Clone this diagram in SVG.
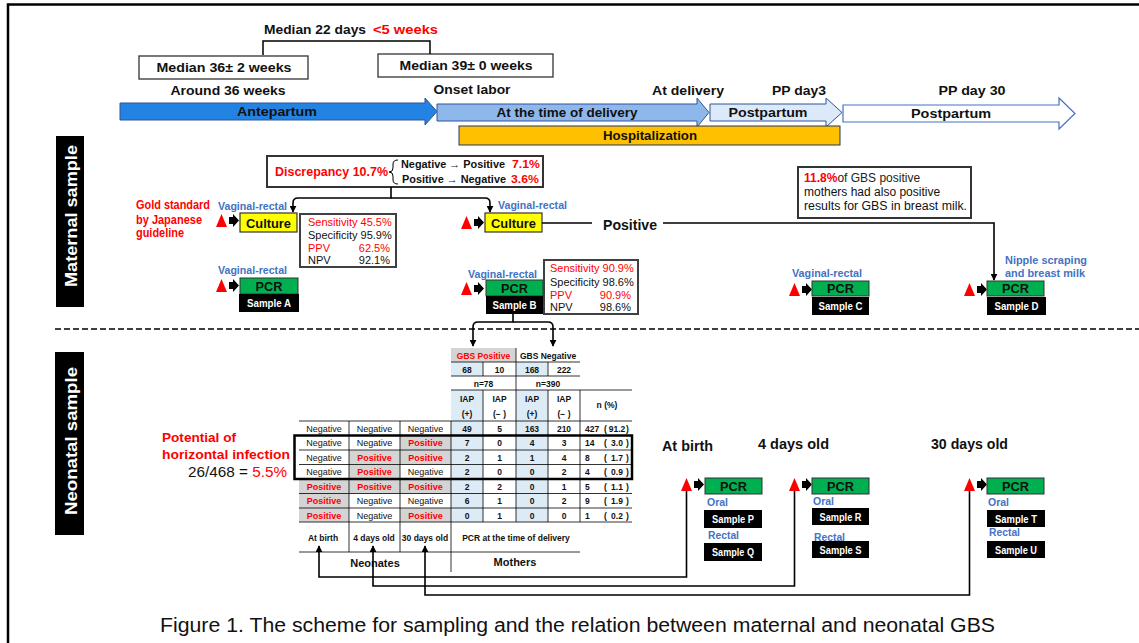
<svg xmlns="http://www.w3.org/2000/svg" width="1139" height="643" viewBox="0 0 1139 643">
<defs>
<style>
text{font-family:"Liberation Sans",Arial,sans-serif;fill:#111;}
.b{font-weight:bold;}
.red{fill:#FF0000;}
.blue{fill:#4472C4;}
.wt{fill:#FFFFFF;}
.c{text-anchor:middle;}
.e{text-anchor:end;}
.ln{fill:none;stroke:#000;stroke-width:1.6;}
.tl{stroke:#000;stroke-width:0.8;fill:none;}
.cul{fill:#FFFF00;stroke:#333;stroke-width:1.2;}
.pcr{fill:#00B050;stroke:#333;stroke-width:1;}
.gray{fill:#D4D4D4;}
.lb{fill:#DDEBF7;}
.t{font-size:9px;}
.h{font-size:8.5px;font-weight:bold;}
.vr{font-size:11.5px;font-weight:bold;fill:#4472C4;}
.lab{font-size:13px;font-weight:bold;}
.st{font-size:11px;}
</style>
<marker id="ah" viewBox="0 0 10 10" refX="9" refY="5" markerWidth="7" markerHeight="7" markerUnits="userSpaceOnUse" orient="auto"><path d="M0,0 L10,5 L0,10 z" fill="#000"/></marker>
<g id="ta"><polygon points="0,13 5.5,0 11,13" fill="#FF0000"/><path d="M13,3 H17 V0 L23,6.5 L17,13 V10 H13 Z" fill="#000"/></g>
</defs>

<rect width="1139" height="643" fill="#fff"/>
<path d="M8,643 V4.5 H1139" fill="none" stroke="#000" stroke-width="2.5"/>

<!-- Timeline -->
<g id="median22">
<text class="lab" x="264" y="34" textLength="102" lengthAdjust="spacingAndGlyphs">Median 22 days</text>
<text class="lab red" x="373" y="34" textLength="65" lengthAdjust="spacingAndGlyphs">&lt;5 weeks</text>
</g>
<g id="median36">
<rect x="139" y="56" width="169" height="23" fill="#fff" stroke="#333" stroke-width="1.3"/>
<text class="lab c" x="224" y="72" textLength="135" lengthAdjust="spacingAndGlyphs">Median 36±  2 weeks</text>
</g>
<g id="median39">
<rect x="378" y="54" width="175" height="23" fill="#fff" stroke="#333" stroke-width="1.3"/>
<text class="lab c" x="466" y="70" textLength="133" lengthAdjust="spacingAndGlyphs">Median 39±  0 weeks</text>
</g>
<g id="timeline-labels">
<text class="lab c" x="228" y="95" textLength="115" lengthAdjust="spacingAndGlyphs">Around 36 weeks</text>
<text class="lab c" x="472" y="94" textLength="77" lengthAdjust="spacingAndGlyphs">Onset labor</text>
<text class="lab c" x="688" y="95" textLength="72" lengthAdjust="spacingAndGlyphs">At delivery</text>
<text class="lab c" x="799" y="95" textLength="54" lengthAdjust="spacingAndGlyphs">PP day3</text>
<text class="lab c" x="972" y="95" textLength="67" lengthAdjust="spacingAndGlyphs">PP day 30</text>
</g>
<g id="antepartum">
<polygon points="120,103 425,103 425,98 437,111.5 425,125 425,120 120,120" fill="#2383E2" stroke="#2F5597" stroke-width="1"/>
<text class="lab c" x="277" y="116" textLength="80" lengthAdjust="spacingAndGlyphs">Antepartum</text>
</g>
<g id="delivery">
<polygon points="437,104 697,104 697,98 709,112.5 697,127 697,121 437,121" fill="#8EB8EC" stroke="#2F5597" stroke-width="1"/>
<text class="lab c" x="567" y="117" textLength="141" lengthAdjust="spacingAndGlyphs">At the time of delivery</text>
</g>
<g id="postpartum1">
<polygon points="710,104 826,104 826,98 842,112.5 826,127 826,121 710,121" fill="#DCE9F8" stroke="#2F5597" stroke-width="1"/>
<text class="lab c" x="768" y="117" textLength="79" lengthAdjust="spacingAndGlyphs">Postpartum</text>
</g>
<g id="postpartum2">
<polygon points="843,105 1059,105 1059,98 1075,113.5 1059,129 1059,122 843,122" fill="#fff" stroke="#4472C4" stroke-width="1.2"/>
<text class="lab c" x="951" y="118" textLength="80" lengthAdjust="spacingAndGlyphs">Postpartum</text>
</g>
<g id="hospitalization">
<rect x="459" y="126" width="381" height="19" fill="#FFC000" stroke="#203864" stroke-width="1"/>
<text class="lab c" x="650" y="140" textLength="94" lengthAdjust="spacingAndGlyphs">Hospitalization</text>
</g>

<!-- Section labels -->
<g id="maternal-label">
<rect x="56" y="136" width="28" height="171" fill="#000"/>
<text class="b wt c" transform="translate(77,216) rotate(-90)" font-size="17" textLength="142" lengthAdjust="spacingAndGlyphs">Maternal sample</text>
</g>
<g id="divider"><line x1="55" y1="329" x2="1139" y2="329" stroke="#000" stroke-width="1.5" stroke-dasharray="6 3"/></g>
<g id="neonatal-label">
<rect x="55" y="352" width="29" height="183" fill="#000"/>
<text class="b wt c" transform="translate(77,441) rotate(-90)" font-size="17" textLength="148" lengthAdjust="spacingAndGlyphs">Neonatal sample</text>
</g>

<!-- Maternal nodes -->
<g id="gold-standard">
<text class="b red" x="136" y="209" font-size="12" textLength="74" lengthAdjust="spacingAndGlyphs">Gold standard</text>
<text class="b red" x="136" y="224" font-size="12" textLength="66" lengthAdjust="spacingAndGlyphs">by Japanese</text>
<text class="b red" x="136" y="237" font-size="12" textLength="48" lengthAdjust="spacingAndGlyphs">guideline</text>
</g>
<g id="culture-a">
<text class="vr" x="218" y="210" textLength="69" lengthAdjust="spacingAndGlyphs">Vaginal-rectal</text>
<use href="#ta" x="216" y="214"/>
<rect class="cul" x="240" y="213" width="57" height="19"/>
<text class="lab c" x="268.5" y="227.5" textLength="45" lengthAdjust="spacingAndGlyphs">Culture</text>
</g>
<g id="stats-a">
<rect x="300" y="214" width="96" height="53" fill="#fff" stroke="#404040" stroke-width="2"/>
<text class="st red" x="308" y="225.5">Sensitivity 45.5%</text>
<text class="st" x="308" y="238.5" fill="#222">Specificity 95.9%</text>
<text class="st red" x="308" y="251.5">PPV</text><text class="st red e" x="390" y="251.5">62.5%</text>
<text class="st" x="308" y="264">NPV</text><text class="st e" x="390" y="264">92.1%</text>
</g>
<g id="pcr-a">
<text class="vr" x="218" y="274" textLength="69" lengthAdjust="spacingAndGlyphs">Vaginal-rectal</text>
<use href="#ta" x="216" y="279"/>
<rect class="pcr" x="240" y="278" width="58" height="16"/>
<text class="b c" x="269" y="291" font-size="12" textLength="27" lengthAdjust="spacingAndGlyphs">PCR</text>
<rect x="239" y="294" width="60" height="18" fill="#000"/>
<text class="b wt c" x="269" y="307" font-size="10" textLength="44" lengthAdjust="spacingAndGlyphs">Sample A</text>
</g>
<g id="discrepancy">
<rect x="267" y="156" width="276" height="31" fill="#fff" stroke="#333" stroke-width="2"/>
<text class="lab red" x="275" y="176" textLength="113" lengthAdjust="spacingAndGlyphs">Discrepancy 10.7%</text>
<path d="M398,160 Q393,160 393,164 V168 Q393,172 389,172 Q393,172 393,176 V180 Q393,184 398,184" fill="none" stroke="#000" stroke-width="1"/>
<text class="b" x="401" y="168" font-size="11" textLength="104" lengthAdjust="spacingAndGlyphs">Negative → Positive</text>
<text class="b red" x="512" y="168" font-size="11" textLength="28" lengthAdjust="spacingAndGlyphs">7.1%</text>
<text class="b" x="402" y="183" font-size="11" textLength="104" lengthAdjust="spacingAndGlyphs">Positive → Negative</text>
<text class="b red" x="511" y="183" font-size="11" textLength="28" lengthAdjust="spacingAndGlyphs">3.6%</text>
</g>
<g id="culture-b">
<text class="vr" x="498" y="209" textLength="69" lengthAdjust="spacingAndGlyphs">Vaginal-rectal</text>
<use href="#ta" x="461" y="216"/>
<rect class="cul" x="485" y="213" width="57" height="19"/>
<text class="lab c" x="513.5" y="227.5" textLength="45" lengthAdjust="spacingAndGlyphs">Culture</text>
</g>
<g id="positive-label"><text class="b" x="603" y="230" font-size="14" textLength="54" lengthAdjust="spacingAndGlyphs">Positive</text></g>
<g id="pcr-b">
<text class="vr" x="468" y="278" textLength="69" lengthAdjust="spacingAndGlyphs">Vaginal-rectal</text>
<use href="#ta" x="461" y="282"/>
<rect class="pcr" x="486" y="280" width="57" height="16"/>
<text class="b c" x="514.5" y="293" font-size="12" textLength="27" lengthAdjust="spacingAndGlyphs">PCR</text>
<rect x="486" y="296" width="57" height="18" fill="#000"/>
<text class="b wt c" x="514.5" y="309" font-size="10" textLength="44" lengthAdjust="spacingAndGlyphs">Sample B</text>
</g>
<g id="stats-b">
<rect x="544" y="260" width="94" height="54" fill="#fff" stroke="#404040" stroke-width="2"/>
<text class="st red" x="550" y="272">Sensitivity 90.9%</text>
<text class="st" x="550" y="285.5" fill="#222">Specificity 98.6%</text>
<text class="st red" x="550" y="298.5">PPV</text><text class="st red e" x="631" y="298.5">90.9%</text>
<text class="st" x="550" y="311">NPV</text><text class="st e" x="631" y="311">98.6%</text>
</g>
<g id="breastmilk-note">
<rect x="798" y="167" width="173" height="51" fill="#fff" stroke="#333" stroke-width="2"/>
<text x="804" y="182" font-size="12"><tspan class="b red">11.8%</tspan><tspan fill="#222">of GBS positive</tspan></text>
<text x="804" y="196" font-size="12" fill="#222">mothers had also positive</text>
<text x="804" y="210" font-size="12" fill="#222" textLength="163" lengthAdjust="spacingAndGlyphs">results for GBS in breast milk.</text>
</g>
<g id="pcr-c">
<text class="vr" x="792" y="277" textLength="70" lengthAdjust="spacingAndGlyphs">Vaginal-rectal</text>
<use href="#ta" x="789" y="283"/>
<rect class="pcr" x="812" y="281" width="57" height="15"/>
<text class="b c" x="840.5" y="293" font-size="12" textLength="27" lengthAdjust="spacingAndGlyphs">PCR</text>
<rect x="812" y="297" width="57" height="18" fill="#000"/>
<text class="b wt c" x="840.5" y="310" font-size="10" textLength="44" lengthAdjust="spacingAndGlyphs">Sample C</text>
</g>
<g id="pcr-d">
<text class="vr" x="1005" y="264" textLength="82" lengthAdjust="spacingAndGlyphs">Nipple scraping</text>
<text class="vr" x="1005" y="277" textLength="80" lengthAdjust="spacingAndGlyphs">and breast milk</text>
<use href="#ta" x="964" y="283"/>
<rect class="pcr" x="987" y="281" width="57" height="15"/>
<text class="b c" x="1015.5" y="293" font-size="12" textLength="27" lengthAdjust="spacingAndGlyphs">PCR</text>
<rect x="987" y="297" width="59" height="18" fill="#000"/>
<text class="b wt c" x="1016.5" y="310" font-size="10" textLength="44" lengthAdjust="spacingAndGlyphs">Sample D</text>
</g>

<!-- Neonatal -->
<g id="horizontal-infection">
<text class="b red" x="162" y="442" font-size="13" textLength="74" lengthAdjust="spacingAndGlyphs">Potential of</text>
<text class="b red" x="162" y="459" font-size="13" textLength="128" lengthAdjust="spacingAndGlyphs">horizontal infection</text>
<text x="188" y="477" font-size="15" fill="#222" textLength="99" lengthAdjust="spacingAndGlyphs">26/468 = <tspan class="red">5.5%</tspan></text>
</g>

<g id="table">
<rect class="gray" x="451" y="348" width="65" height="14"/>
<rect class="lb" x="451" y="362" width="32" height="14"/>
<rect class="lb" x="516" y="362" width="32" height="14"/>
<rect class="lb" x="451" y="390" width="32" height="132"/>
<rect class="lb" x="516" y="390" width="32" height="132"/>
<rect class="gray" x="400" y="435.5" width="51" height="14.5"/>
<rect class="gray" x="349" y="450" width="102" height="14.5"/>
<rect class="gray" x="349" y="464.5" width="51" height="14.5"/>
<rect class="gray" x="299" y="479" width="152" height="14.5"/>
<rect class="gray" x="299" y="493.5" width="50" height="14.5"/>
<rect class="gray" x="299" y="508" width="50" height="14"/>
<rect class="gray" x="400" y="508" width="51" height="14"/>
<path class="tl" d="M451,362 H580 M451,376 H580 M451,390 H632 M299,421 H632 M299,435.5 H632 M299,450 H632 M299,464.5 H632 M299,479 H632 M299,493.5 H632 M299,508 H632 M299,522 H632 M299,552 H580 M516,348 V522 M483,362 V376 M548,362 V376 M483,390 V522 M548,390 V522 M580,390 V522 M451,421 V572 M349,421 V552 M400,421 V552"/>
<rect x="294.5" y="435.5" width="337.5" height="43.5" fill="none" stroke="#000" stroke-width="2.5"/>
<text class="h red c" x="483.5" y="358.5">GBS Positive</text>
<text class="h c" x="548" y="358.5">GBS Negative</text>
<text class="h c" x="467" y="372.5">68</text><text class="h c" x="499.5" y="372.5">10</text><text class="h c" x="532" y="372.5">168</text><text class="h c" x="564" y="372.5">222</text>
<text class="h c" x="483.5" y="386.5">n=78</text><text class="h c" x="548" y="386.5">n=390</text>
<text class="h c" x="467" y="402">IAP</text><text class="h c" x="499.5" y="402">IAP</text><text class="h c" x="532" y="402">IAP</text><text class="h c" x="564" y="402">IAP</text>
<text class="h c" x="467" y="417">(+)</text><text class="h c" x="499.5" y="417">(− )</text><text class="h c" x="532" y="417">(+)</text><text class="h c" x="564" y="417">(− )</text>
<text class="h c" x="607" y="408">n (%)</text>
<text class="t c" x="324" y="431.5">Negative</text><text class="t c" x="374.5" y="431.5">Negative</text><text class="t c" x="425.5" y="431.5">Negative</text>
<text class="h c" x="467" y="431.5">49</text><text class="h c" x="499.5" y="431.5">5</text><text class="h c" x="532" y="431.5">163</text><text class="h c" x="564" y="431.5">210</text>
<text class="h" x="585" y="431.5">427</text><text class="h" x="604" y="431.5">(</text><text class="h c" x="617" y="431.5">91.2</text><text class="h" x="626" y="431.5">)</text>
<text class="t c" x="324" y="446">Negative</text><text class="t c" x="374.5" y="446">Negative</text><text class="t b red c" x="425.5" y="446">Positive</text>
<text class="h c" x="467" y="446">7</text><text class="h c" x="499.5" y="446">0</text><text class="h c" x="532" y="446">4</text><text class="h c" x="564" y="446">3</text>
<text class="h" x="585" y="446">14</text><text class="h" x="604" y="446">(</text><text class="h c" x="617" y="446">3.0</text><text class="h" x="626" y="446">)</text>
<text class="t c" x="324" y="460.5">Negative</text><text class="t b red c" x="374.5" y="460.5">Positive</text><text class="t b red c" x="425.5" y="460.5">Positive</text>
<text class="h c" x="467" y="460.5">2</text><text class="h c" x="499.5" y="460.5">1</text><text class="h c" x="532" y="460.5">1</text><text class="h c" x="564" y="460.5">4</text>
<text class="h" x="585" y="460.5">8</text><text class="h" x="604" y="460.5">(</text><text class="h c" x="617" y="460.5">1.7</text><text class="h" x="626" y="460.5">)</text>
<text class="t c" x="324" y="475">Negative</text><text class="t b red c" x="374.5" y="475">Positive</text><text class="t c" x="425.5" y="475">Negative</text>
<text class="h c" x="467" y="475">2</text><text class="h c" x="499.5" y="475">0</text><text class="h c" x="532" y="475">0</text><text class="h c" x="564" y="475">2</text>
<text class="h" x="585" y="475">4</text><text class="h" x="604" y="475">(</text><text class="h c" x="617" y="475">0.9</text><text class="h" x="626" y="475">)</text>
<text class="t b red c" x="324" y="489.5">Positive</text><text class="t b red c" x="374.5" y="489.5">Positive</text><text class="t b red c" x="425.5" y="489.5">Positive</text>
<text class="h c" x="467" y="489.5">2</text><text class="h c" x="499.5" y="489.5">2</text><text class="h c" x="532" y="489.5">0</text><text class="h c" x="564" y="489.5">1</text>
<text class="h" x="585" y="489.5">5</text><text class="h" x="604" y="489.5">(</text><text class="h c" x="617" y="489.5">1.1</text><text class="h" x="626" y="489.5">)</text>
<text class="t b red c" x="324" y="504">Positive</text><text class="t c" x="374.5" y="504">Negative</text><text class="t c" x="425.5" y="504">Negative</text>
<text class="h c" x="467" y="504">6</text><text class="h c" x="499.5" y="504">1</text><text class="h c" x="532" y="504">0</text><text class="h c" x="564" y="504">2</text>
<text class="h" x="585" y="504">9</text><text class="h" x="604" y="504">(</text><text class="h c" x="617" y="504">1.9</text><text class="h" x="626" y="504">)</text>
<text class="t b red c" x="324" y="518.5">Positive</text><text class="t c" x="374.5" y="518.5">Negative</text><text class="t b red c" x="425.5" y="518.5">Positive</text>
<text class="h c" x="467" y="518.5">0</text><text class="h c" x="499.5" y="518.5">1</text><text class="h c" x="532" y="518.5">0</text><text class="h c" x="564" y="518.5">0</text>
<text class="h" x="585" y="518.5">1</text><text class="h" x="604" y="518.5">(</text><text class="h c" x="617" y="518.5">0.2</text><text class="h" x="626" y="518.5">)</text>
<text class="h c" x="323" y="541">At birth</text>
<text class="h c" x="374" y="541">4 days old</text>
<text class="h c" x="425" y="541">30 days old</text>
<text class="h c" x="516" y="541">PCR at the time of delivery</text>
<text class="b c" x="375" y="567" font-size="11">Neonates</text>
<text class="b c" x="515" y="566" font-size="11">Mothers</text>
</g>

<g id="neo-labels">
<text class="b" x="662" y="451" font-size="14" textLength="51" lengthAdjust="spacingAndGlyphs">At birth</text>
<text class="b" x="758" y="449" font-size="14" textLength="71" lengthAdjust="spacingAndGlyphs">4 days old</text>
<text class="b" x="931" y="449" font-size="14" textLength="77" lengthAdjust="spacingAndGlyphs">30 days old</text>
</g>
<g id="neo-birth">
<use href="#ta" x="681" y="478"/>
<rect class="pcr" x="705" y="478" width="57" height="16"/>
<text class="b c" x="733.5" y="491" font-size="12" textLength="27" lengthAdjust="spacingAndGlyphs">PCR</text>
<text class="vr" x="707" y="506" textLength="21" lengthAdjust="spacingAndGlyphs">Oral</text>
<rect x="704" y="510" width="58" height="18" fill="#000"/>
<text class="b wt c" x="733" y="523" font-size="10" textLength="42" lengthAdjust="spacingAndGlyphs">Sample P</text>
<text class="vr" x="708" y="539" textLength="31" lengthAdjust="spacingAndGlyphs">Rectal</text>
<rect x="704" y="543" width="58" height="18" fill="#000"/>
<text class="b wt c" x="733" y="556" font-size="10" textLength="42" lengthAdjust="spacingAndGlyphs">Sample Q</text>
</g>
<g id="neo-4days">
<use href="#ta" x="789" y="478"/>
<rect class="pcr" x="812" y="478" width="57" height="16"/>
<text class="b c" x="840.5" y="491" font-size="12" textLength="27" lengthAdjust="spacingAndGlyphs">PCR</text>
<text class="vr" x="813" y="505" textLength="21" lengthAdjust="spacingAndGlyphs">Oral</text>
<rect x="812" y="508" width="57" height="17" fill="#000"/>
<text class="b wt c" x="840.5" y="520.5" font-size="10" textLength="42" lengthAdjust="spacingAndGlyphs">Sample R</text>
<text class="vr" x="814" y="541" textLength="31" lengthAdjust="spacingAndGlyphs">Rectal</text>
<rect x="812" y="541" width="57" height="17" fill="#000"/>
<text class="b wt c" x="840.5" y="553.5" font-size="10" textLength="42" lengthAdjust="spacingAndGlyphs">Sample S</text>
</g>
<g id="neo-30days">
<use href="#ta" x="964" y="478"/>
<rect class="pcr" x="987" y="478" width="57" height="16"/>
<text class="b c" x="1015.5" y="491" font-size="12" textLength="27" lengthAdjust="spacingAndGlyphs">PCR</text>
<text class="vr" x="988" y="506" textLength="21" lengthAdjust="spacingAndGlyphs">Oral</text>
<rect x="987" y="510" width="58" height="17" fill="#000"/>
<text class="b wt c" x="1016" y="522.5" font-size="10" textLength="42" lengthAdjust="spacingAndGlyphs">Sample T</text>
<text class="vr" x="989" y="536" textLength="31" lengthAdjust="spacingAndGlyphs">Rectal</text>
<rect x="987" y="541" width="58" height="17" fill="#000"/>
<text class="b wt c" x="1016" y="553.5" font-size="10" textLength="42" lengthAdjust="spacingAndGlyphs">Sample U</text>
</g>

<g id="connectors" class="ln">
<path d="M263,55 V41 H430 V54" stroke-width="1.5"/>
<path d="M391,187 V198 H298 Q293,198 293,203 V212" marker-end="url(#ah)"/>
<path d="M391,198 H485 Q490,198 490,203 V212" marker-end="url(#ah)"/>
<path d="M513,314 V322 H478 Q473,322 473,327 V346" marker-end="url(#ah)"/>
<path d="M513,322 H548 Q553,322 553,327 V346" marker-end="url(#ah)"/>
<path d="M542,223 H592"/>
<path d="M663,223 H994 V280" marker-end="url(#ah)"/>
<path d="M686.5,491 V577 H319 V546" marker-end="url(#ah)"/>
<path d="M794.5,491 V586 H373 V546" marker-end="url(#ah)"/>
<path d="M969.5,491 V595 H425 V546" marker-end="url(#ah)"/>
</g>

<g id="caption">
<text x="160" y="632" font-size="19.5" fill="#111" textLength="835" lengthAdjust="spacingAndGlyphs">Figure 1. The scheme for sampling and the relation between maternal and neonatal GBS</text>
</g>
</svg>
